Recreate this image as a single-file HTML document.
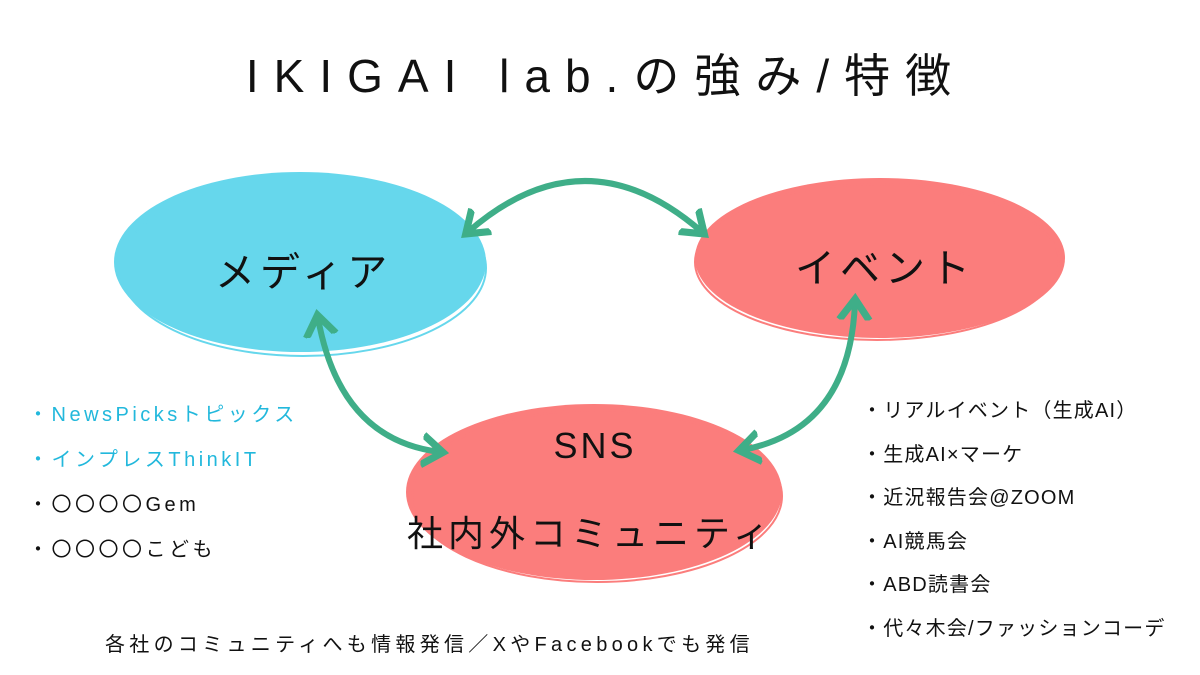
<!DOCTYPE html>
<html><head><meta charset="utf-8"><style>
body{margin:0;width:1200px;height:675px;background:#fff;overflow:hidden;font-family:"Liberation Sans","Noto Sans CJK JP",sans-serif}
svg{position:absolute;left:0;top:0}
.t{position:absolute;white-space:nowrap;color:#111}
</style></head><body>
<svg width="1200" height="675">
<defs><marker id="a" markerWidth="6" markerHeight="6" refX="3" refY="3" orient="auto" markerUnits="strokeWidth"><path d="M0,0.5 L3.5,3 L0,5.5" fill="none" stroke="#3fae88" stroke-width="1.2"/></marker>
<marker id="b" markerWidth="6" markerHeight="6" refX="3" refY="3" orient="auto-start-reverse" markerUnits="strokeWidth"><path d="M0,0.5 L3.5,3 L0,5.5" fill="none" stroke="#3fae88" stroke-width="1.2"/></marker></defs>
<ellipse cx="300" cy="262" rx="186" ry="90" fill="#66d7ec"/>
<ellipse cx="303" cy="268" rx="183" ry="88" fill="none" stroke="#66d7ec" stroke-width="2"/>
<ellipse cx="880" cy="258" rx="185" ry="80" fill="#fb7d7c"/>
<ellipse cx="877" cy="262" rx="182" ry="78" fill="none" stroke="#fb7d7c" stroke-width="2"/>
<ellipse cx="594" cy="492" rx="188" ry="88" fill="#fb7d7c"/>
<ellipse cx="597" cy="496" rx="185" ry="86" fill="none" stroke="#fb7d7c" stroke-width="2"/>
<path d="M468,232 Q585,130 702,232" fill="none" stroke="#3fae88" stroke-width="6" stroke-linecap="round" marker-start="url(#b)" marker-end="url(#a)"/>
<path d="M318,318 Q340,440 440,452" fill="none" stroke="#3fae88" stroke-width="6" stroke-linecap="round" marker-start="url(#b)" marker-end="url(#a)"/>
<path d="M855,302 Q850,430 742,450" fill="none" stroke="#3fae88" stroke-width="6" stroke-linecap="round" marker-start="url(#b)" marker-end="url(#a)"/>
</svg>
<div class="t" style="left:0;width:1212px;text-align:center;top:40px;font-size:46px;letter-spacing:15px">IKIGAI lab.の強み/特徴</div>
<div class="t" style="left:215px;top:240px;font-size:40px;letter-spacing:5px">メディア</div>
<div class="t" style="left:795px;top:236px;font-size:40px;letter-spacing:5px">イベント</div>
<div class="t" style="left:0;width:1190px;text-align:center;top:425px;font-size:36px;letter-spacing:3px">SNS</div>
<div class="t" style="left:407px;top:505px;font-size:36px;letter-spacing:5px">社内外コミュニティ</div>
<div class="t" style="left:28px;top:393px;font-size:20px;line-height:45px;letter-spacing:3.5px"><span style="color:#22b8dc">・NewsPicksトピックス<br>・インプレスThinkIT</span><br>・〇〇〇〇Gem<br>・〇〇〇〇こども</div>
<div class="t" style="left:862px;top:390px;font-size:20px;line-height:43.5px;letter-spacing:1.2px">・リアルイベント（生成AI）<br>・生成AI×マーケ<br>・近況報告会@ZOOM<br>・AI競馬会<br>・ABD読書会<br>・代々木会/ファッションコーデ</div>
<div class="t" style="left:105px;top:628px;font-size:20px;letter-spacing:4.3px">各社のコミュニティへも情報発信／XやFacebookでも発信</div>
</body></html>
